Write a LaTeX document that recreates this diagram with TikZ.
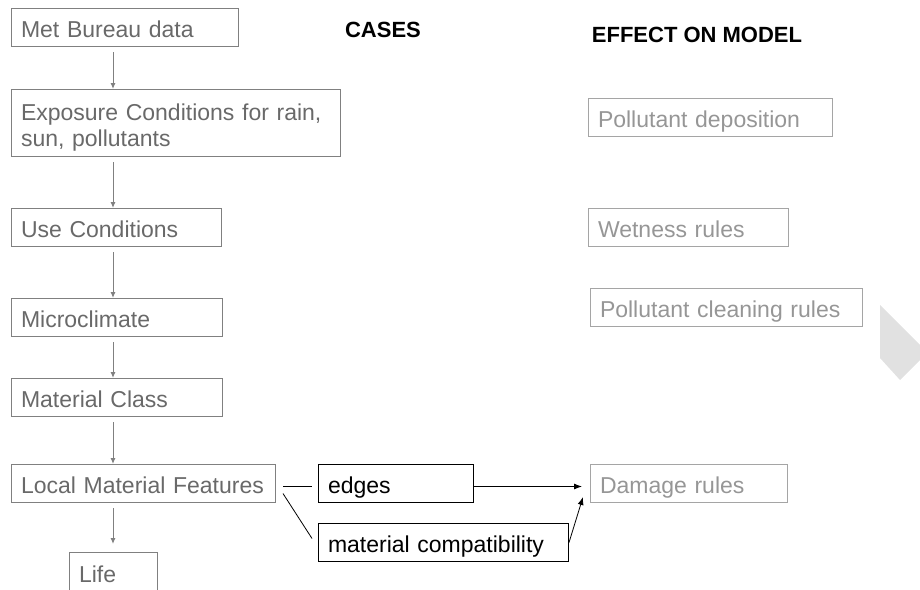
\documentclass[tikz,border=0pt]{standalone}
\usepackage{fontspec}
\setmainfont{Liberation Sans}
\usetikzlibrary{arrows.meta,positioning}
\definecolor{casetext}{RGB}{105,105,105}
\definecolor{caseline}{RGB}{128,128,128}
\definecolor{modeltext}{RGB}{150,150,150}
\definecolor{modelline}{RGB}{165,165,165}
\definecolor{decogray}{RGB}{225,225,225}

\begin{document}
\begin{tikzpicture}[x=1pt, y=-1pt, line width=1pt, font=\fontsize{23}{26}\selectfont,
  case node/.style={draw=caseline, text=casetext, anchor=north west, inner xsep=9.5pt, inner ysep=0pt, align=left, minimum height=38pt, text height=23pt, text depth=3pt},
  model node/.style={case node, draw=modelline, text=modeltext},
  link node/.style={case node, draw=black, text=black},
  head/.style={font=\fontsize{22}{26}\selectfont\bfseries},
  flow/.style={draw=caseline, -{Latex[length=6pt,width=5pt]}, shorten <=5pt},
  link/.style={draw=black, line width=0.8pt},
  effect/.style={link, -{Latex[length=8pt,width=6pt]}}]
\useasboundingbox (0,0) rectangle (920,589);
\clip (0,0) rectangle (920,589);
%headings
\node[head] (cases) at (383,30) {CASES};
\node[head] (effect) at (697,35) {EFFECT ON MODEL};
\begin{scope}
\node[case node, text width=208pt] (met) at (11,8) {Met Bureau data};
\node[case node, text width=310pt, minimum height=67pt, text depth=29pt] (expo) at (11,89) {Exposure Conditions for rain,\\ sun, pollutants};
\node[case node, text width=191pt] (use) at (11,208) {Use Conditions};
\node[case node, text width=192pt] (micro) at (11,298) {Microclimate};
\node[case node, text width=192pt] (mclass) at (11,378) {Material Class};
\node[case node, text width=245pt] (local) at (11,464) {Local Material Features};
\node[case node, text width=69pt, minimum height=40pt] (life) at (69,552) {Life};
\end{scope}
\begin{scope}
\node[link node, text width=136pt] (edges) at (318,464) {edges};
\node[link node, text width=231pt] (compat) at (318,523) {material compatibility};
\end{scope}
\begin{scope}
\node[model node, text width=225pt] (dep) at (588,98) {Pollutant deposition};
\node[model node, text width=181pt] (wet) at (588,208) {Wetness rules};
\node[model node, text width=253pt] (clean) at (590,288) {Pollutant cleaning rules};
\node[model node, text width=178pt] (dmg) at (590,464) {Damage rules};
\end{scope}
\begin{scope}
\foreach \a/\b in {met/expo, expo/use, use/micro, micro/mclass, mclass/local}
  \draw[flow] ([xshift=102pt]\a.south west) -- ([xshift=102pt]\b.north west);
\draw[flow, shorten >=8pt] ([xshift=102pt]local.south west) -- ([xshift=44pt]life.north west);
\draw[link] ([xshift=7pt,yshift=-3pt]local.east) -- ([xshift=-6pt,yshift=-3pt]edges.west);
\draw[link] ([xshift=7pt,yshift=-10pt]local.east) -- ([xshift=-6pt,yshift=4pt]compat.west);
\draw[effect] ([yshift=-3pt]edges.east) -- ([xshift=-8pt,yshift=-3pt]dmg.west);
\draw[effect] (compat.east) -- ([xshift=-7pt,yshift=6pt]dmg.south west);
\end{scope}
\fill[decogray] (880,305) -- (925,350) -- (925,355) -- (900,380) -- (880,358) -- cycle;
\end{tikzpicture}
\end{document}
